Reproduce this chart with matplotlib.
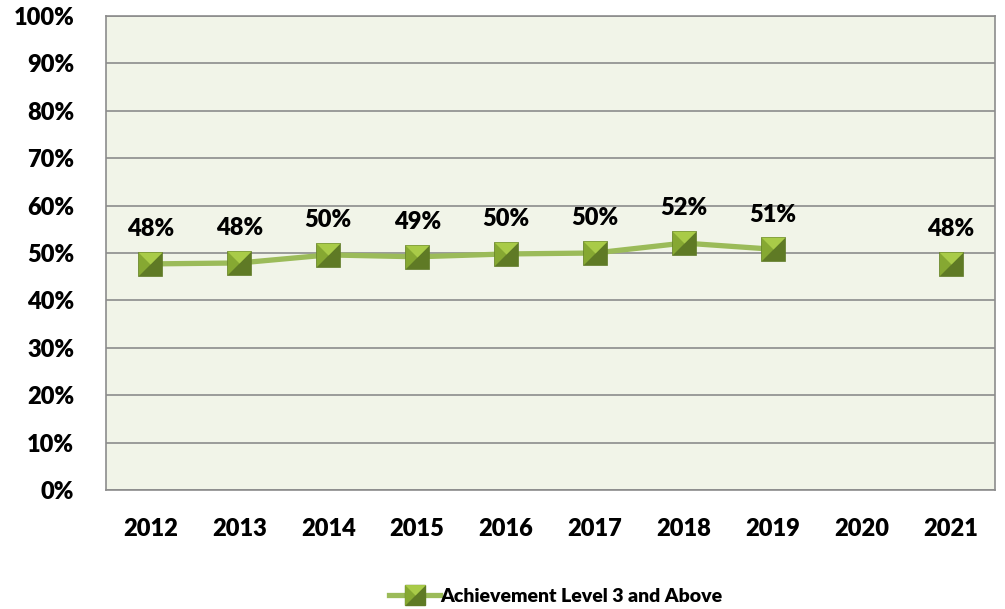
import numpy as np
import matplotlib.pyplot as plt
from matplotlib.lines import Line2D
from matplotlib.legend_handler import HandlerTuple

# Data
years = ['2012', '2013', '2014', '2015', '2016', '2017', '2018', '2019', '2020', '2021']
achievement = [47.7, 47.9, 49.6, 49.2, 49.8, 50.0, 52.1, 50.8, np.nan, 47.7]
series_name = 'Achievement Level 3 and Above'

line_color = '#9BBB59'
dark = '#5F7A25'
mid = '#86A832'
light = '#A9CB48'

plt.rcParams['font.family'] = ['Lato', 'DejaVu Sans']
plt.rcParams['font.weight'] = 'heavy'

fig = plt.figure(figsize=(10.05, 6.09), dpi=100)
ax = fig.add_axes([0.1055, 0.1954, 0.8845, 0.7783])
ax.set_facecolor('#F1F4E8')

x = np.arange(len(years))

# shaded "pyramid" square markers
tri_ul = [(-1, 1), (1, 1), (-1, -1), (-1, 1)]
tri_top = [(-1, 1), (1, 1), (0, 0), (-1, 1)]

ax.plot(x, achievement, color=line_color, lw=3.8, zorder=3)
ax.plot(x, achievement, ls='none', marker='s', ms=17, mfc=dark, mec=dark, mew=0.5, zorder=4)
ax.plot(x, achievement, ls='none', marker=tri_ul, ms=17, mfc=mid, mec='none', mew=0, zorder=5)
ax.plot(x, achievement, ls='none', marker=tri_top, ms=17, mfc=light, mec='none', mew=0, zorder=6)

for xi, v in zip(x, achievement):
    if np.isnan(v):
        continue
    ax.annotate(f'{v:.0f}%', (xi, v), xytext=(0, 17), textcoords='offset points',
                ha='center', va='bottom', fontsize=17, fontweight='heavy')

ax.set_xlim(-0.5, len(years) - 0.5)
ax.set_ylim(0, 100)
ax.set_xticks(x)
ax.set_xticklabels(years)
ax.set_yticks(np.arange(0, 101, 10))
ax.set_yticklabels([f'{t}%' for t in range(0, 101, 10)])
ax.tick_params(axis='both', length=0, labelsize=17)
ax.tick_params(axis='x', pad=20)
ax.tick_params(axis='y', pad=23)
ax.grid(axis='y', color='#8C8C8C', lw=1.2)
ax.set_axisbelow(True)
for s in ax.spines.values():
    s.set_color('#8C8C8C')
    s.set_linewidth(1.2)

# legend
h_line = Line2D([], [], color=line_color, lw=3.8)
h_sq = Line2D([], [], ls='none', marker='s', ms=15, mfc=dark, mec=dark)
h_ul = Line2D([], [], ls='none', marker=tri_ul, ms=15, mfc=mid, mec='none')
h_top = Line2D([], [], ls='none', marker=tri_top, ms=15, mfc=light, mec='none')
fig.legend([(h_line, h_sq, h_ul, h_top)], [series_name],
           handler_map={tuple: HandlerTuple(ndivide=1, pad=0)},
           loc='center', bbox_to_anchor=(0.553, 0.021), frameon=False,
           handlelength=2.6, handletextpad=0.0,
           prop={'weight': 'heavy', 'size': 14})

fig.savefig('out.png', dpi=100)
